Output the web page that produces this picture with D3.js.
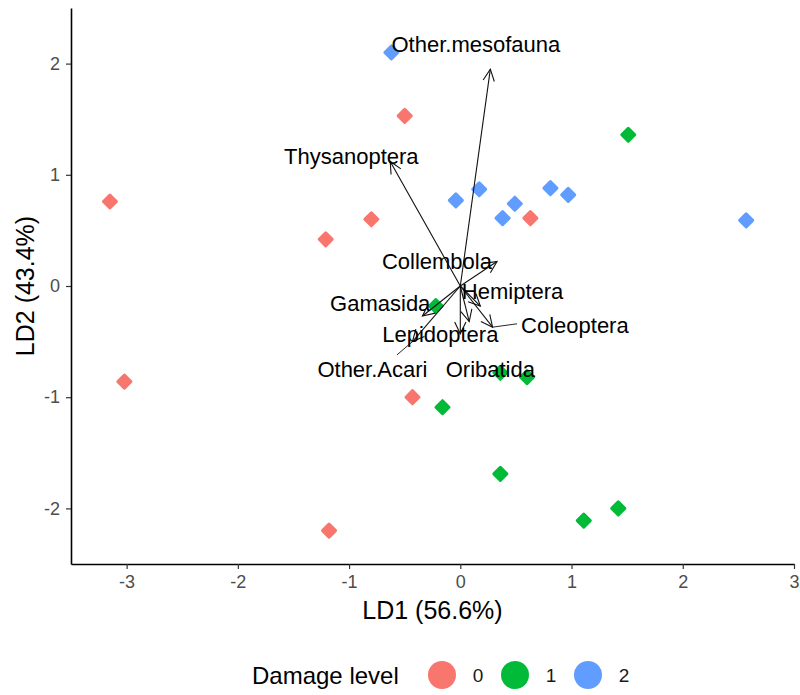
<!DOCTYPE html>
<html lang="en">
<head>
<meta charset="utf-8">
<title>LDA biplot</title>
<script src="https://cdn.jsdelivr.net/npm/d3@7"></script>
<style>
  body { margin: 0; background: #fff; }
  text { font-family: Arial, "Liberation Sans", Helvetica, sans-serif; }
  .tick text { fill: #4d4d4d; font-size: 18px; }
  .tick line { stroke: #333; stroke-width: 1.2; }
  .domain { stroke: #000; stroke-width: 1.6; }
  .lab { font-size: 22px; fill: #000; }
</style>
</head>
<body>
<script>
// sample scores, by damage level
var ld1_0 = [-3.15, -3.02, -1.21, -0.80, -0.50, -0.43, -1.18, 0.63];
var ld2_0 = [0.76, -0.86, 0.42, 0.60, 1.53, -1.00, -2.20, 0.61];
var ld1_1 = [1.51, -0.22, 0.36, 0.60, -0.16, 0.36, 1.11, 1.42];
var ld2_1 = [1.36, -0.18, -0.78, -0.82, -1.09, -1.69, -2.11, -2.00];
var ld1_2 = [-0.62, -0.04, 0.17, 0.38, 0.49, 0.81, 0.97, 2.57];
var ld2_2 = [2.10, 0.77, 0.87, 0.61, 0.74, 0.88, 0.82, 0.59];

// loadings (arrow tips) and label positions
var taxa = ["Other.mesofauna", "Thysanoptera", "Collembola", "Hemiptera", "Coleoptera",
            "Lepidoptera", "Gamasida", "Other.Acari", "Oribatida"];
var arrowX = [0.27, -0.63, 0.33, 0.18, 0.29, 0.00, -0.34, -0.43, 0.08];
var arrowY = [1.95, 1.12, 0.22, -0.18, -0.37, -0.43, -0.27, -0.50, -0.32];
var labelX = [0.14, -0.98, -0.21, 0.47, 1.03, -0.18, -0.72, -0.79, 0.27];
var labelY = [2.17, 1.17, 0.22, -0.05, -0.35, -0.43, -0.16, -0.75, -0.75];
var linkX = [null, null, null, null, 0.51, null, null, -0.57, null];
var linkY = [null, null, null, null, -0.34, null, null, -0.62, null];

var levels = ["0", "1", "2"];
var colors = ["#F8766D", "#00BA38", "#619CFF"];
var xTicks = [-3, -2, -1, 0, 1, 2, 3];
var yTicks = [-2, -1, 0, 1, 2];

var w = 800, h = 695;
var margin = {top: 8, right: 6, bottom: 131, left: 71};

var svg = d3.select("body").append("svg")
  .attr("width", w).attr("height", h);

var x = d3.scaleLinear().domain([-3.5, 3.0]).range([margin.left, w - margin.right]);
var y = d3.scaleLinear().domain([-2.5, 2.5]).range([h - margin.bottom, margin.top]);

var fmt = function(d) { return String(d); };

// axes
svg.append("g")
  .attr("transform", "translate(0," + (h - margin.bottom) + ")")
  .call(d3.axisBottom(x).tickValues(xTicks).tickFormat(fmt).tickSize(5).tickPadding(5).tickSizeOuter(0))
  .call(g => g.selectAll(".tick text").attr("dy", "0.8em"));

svg.append("g")
  .attr("transform", "translate(" + margin.left + ",0)")
  .call(d3.axisLeft(y).tickValues(yTicks).tickFormat(fmt).tickSize(5).tickPadding(6).tickSizeOuter(0));

// axis titles
svg.append("text")
  .attr("x", (x.range()[0] + x.range()[1]) / 2)
  .attr("y", 619)
  .attr("text-anchor", "middle")
  .style("font-size", "25px")
  .text("LD1 (56.6%)");

svg.append("text")
  .attr("transform", "translate(34," + y(0) + ") rotate(-90)")
  .attr("text-anchor", "middle")
  .style("font-size", "25px")
  .text("LD2 (43.4%)");

// points
var pts = [];
[[ld1_0, ld2_0], [ld1_1, ld2_1], [ld1_2, ld2_2]].forEach(function(s, k) {
  s[0].forEach(function(v, i) { pts.push({x: v, y: s[1][i], g: k}); });
});

var diamond = d3.symbol().type(d3.symbolSquare).size(85);
svg.append("g").selectAll("path")
  .data(pts)
  .enter().append("path")
  .attr("d", diamond)
  .attr("transform", function(d) { return "translate(" + x(d.x) + "," + y(d.y) + ") rotate(45)"; })
  .attr("fill", function(d) { return colors[d.g]; })
  .attr("stroke", function(d) { return colors[d.g]; })
  .attr("stroke-width", 3)
  .attr("stroke-linejoin", "round");

// arrows
var ag = svg.append("g").attr("fill", "none").attr("stroke", "#111").attr("stroke-width", 1.1);
taxa.forEach(function(t, i) {
  var x0 = x(0), y0 = y(0), x1 = x(arrowX[i]), y1 = y(arrowY[i]);
  var ang = Math.atan2(y1 - y0, x1 - x0);
  var L = 13, a = Math.PI / 7;
  ag.append("line").attr("x1", x0).attr("y1", y0).attr("x2", x1).attr("y2", y1);
  ag.append("path").attr("d",
    "M" + (x1 - L * Math.cos(ang - a)) + "," + (y1 - L * Math.sin(ang - a)) +
    "L" + x1 + "," + y1 +
    "L" + (x1 - L * Math.cos(ang + a)) + "," + (y1 - L * Math.sin(ang + a)));
  if (linkX[i] !== null) {
    ag.append("line")
      .attr("x1", x(linkX[i])).attr("y1", y(linkY[i]))
      .attr("x2", x1).attr("y2", y1)
      .attr("stroke-width", 0.9);
  }
});

// taxon labels
svg.append("g").selectAll("text")
  .data(taxa)
  .enter().append("text")
  .attr("class", "lab")
  .attr("x", function(d, i) { return x(labelX[i]); })
  .attr("y", function(d, i) { return y(labelY[i]); })
  .attr("dy", "0.35em")
  .attr("text-anchor", "middle")
  .text(function(d) { return d; });

// legend
var lg = svg.append("g");
lg.append("text").attr("x", 252).attr("y", 684).style("font-size", "24px").text("Damage level");
levels.forEach(function(l, i) {
  var cx = 442 + i * 73;
  lg.append("circle").attr("cx", cx).attr("cy", 675).attr("r", 14).attr("fill", colors[i]);
  lg.append("text").attr("x", cx + 36).attr("y", 682).attr("text-anchor", "middle")
    .style("font-size", "19px").attr("fill", "#1a1a1a").text(l);
});
</script>
</body>
</html>
